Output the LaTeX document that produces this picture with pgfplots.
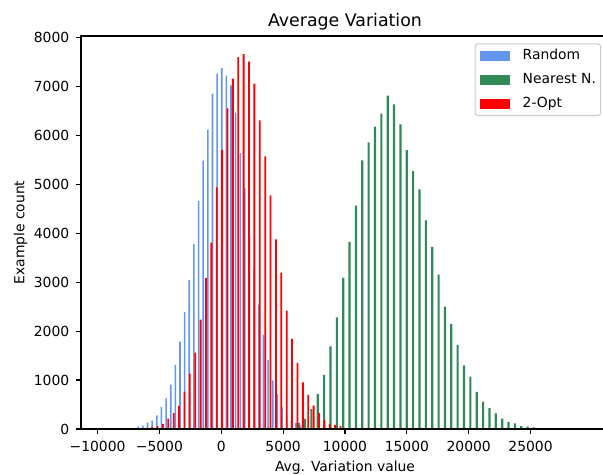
\documentclass[border=0pt]{standalone}
\usepackage{fontspec}
\setmainfont{DejaVu Sans}
\usepackage{pgfplots}
\pgfplotsset{compat=1.18}
\definecolor{cornflower}{HTML}{6495ED}
\definecolor{seagreen}{HTML}{2E8B57}
\definecolor{mplred}{HTML}{FF0000}
\begin{document}
\begin{tikzpicture}
\begin{axis}[
  at={(0,0)}, anchor=south west,
  scale only axis, width=380.16pt, height=282.96pt,
  xmin=-11340, xmax=31340, ymin=0, ymax=8030,
  scaled x ticks=false, scaled y ticks=false,
  axis on top,
  axis line style={line width=0.8pt},
  tick pos=left, tick align=outside,
  major tick length=3.5pt,
  every tick/.style={black, line width=0.8pt},
  xtick={-10000,-5000,0,5000,10000,15000,20000,25000},
  xticklabels={−10000,−5000,0,5000,10000,15000,20000,25000},
  ytick={0,1000,2000,3000,4000,5000,6000,7000,8000},
  yticklabels={0,1000,2000,3000,4000,5000,6000,7000,8000},
  tick label style={font=\fontsize{10}{12}\selectfont},
  xticklabel style={anchor=base, inner sep=0pt, yshift=-12.6pt},
  yticklabel style={anchor=east, inner sep=0pt, xshift=-4.8pt},
  title={Average Variation},
  title style={at={(axis description cs:0.5,1)}, anchor=base, yshift=0.7pt, inner sep=0pt, font=\fontsize{12.5}{15}\selectfont},
  xlabel={Avg. Variation value},
  xlabel style={at={(axis description cs:0.5,-0.1081)}, anchor=base, inner sep=0pt, font=\fontsize{10}{12}\selectfont},
  ylabel={Example count},
  ylabel style={at={(axis description cs:-0.1071,0.5)}, anchor=base, inner sep=0pt, font=\fontsize{10}{12}\selectfont},
  legend cell align=left,
  legend style={at={(0.9852,0.9814)}, anchor=north east, draw=black!20, line width=0.8pt, rounded corners=2pt, fill=white,
    inner xsep=3.3pt, inner ysep=3.5pt, row sep=7.3pt, font=\fontsize{10}{12}\selectfont,
    nodes={inner sep=0pt, text height=7.5pt, text depth=2.5pt},
    /tikz/every odd column/.append style={column sep=9.4pt}},
  legend image code/.code={\fill[#1, sharp corners] (0pt,-3.6pt) rectangle (21.6pt,3.6pt);},
]
\addplot[ybar, bar width=128, bar shift=0pt, fill=cornflower, draw=none] coordinates {
(-7462,20) (-7087,20) (-6712,47) (-6337,67) (-5962,129) (-5587,170) (-5212,279) (-4837,450) (-4462,626) (-4087,906) (-3712,1309) (-3337,1785) (-2962,2393) (-2587,3047) (-2212,3783) (-1837,4660) (-1462,5481) (-1087,6115) (-712,6851) (-337,7260) (38,7375) (413,7219) (788,7020) (1163,6462) (1538,5636) (1913,4914) (2288,3950) (2663,3279) (3038,2542) (3413,1928) (3788,1411) (4163,994) (4538,716) (4913,440) (5288,290) (5663,170) (6038,125) (6413,72)
};
\addlegendentry{Random}
\addplot[ybar, bar width=175, bar shift=0pt, fill=seagreen, draw=none] coordinates {
(6257,122) (6771,208) (7285,409) (7799,716) (8313,1104) (8827,1690) (9341,2283) (9855,3088) (10369,3824) (10883,4566) (11397,5487) (11911,5855) (12425,6176) (12939,6442) (13453,6810) (13967,6632) (14481,6223) (14995,5697) (15509,5268) (16023,4894) (16537,4260) (17051,3722) (17565,3155) (18079,2501) (18593,2147) (19107,1718) (19621,1301) (20135,1070) (20649,757) (21163,558) (21677,425) (22191,319) (22705,211) (23219,143) (23733,115) (24247,61) (24761,53) (25275,33) (25789,20)
};
\addlegendentry{Nearest N.\hspace{2.4pt}}
\addplot[ybar, bar width=148, bar shift=0pt, fill=mplred, draw=none] coordinates {
(-6023,12) (-5588,40) (-5153,61) (-4718,102) (-4283,211) (-3848,323) (-3413,473) (-2978,763) (-2543,1131) (-2108,1560) (-1673,2236) (-1238,3088) (-803,3810) (-368,4935) (67,5700) (502,6550) (937,7157) (1372,7600) (1807,7658) (2242,7508) (2677,7055) (3112,6308) (3547,5569) (3982,4772) (4417,3872) (4852,3193) (5287,2416) (5722,1840) (6157,1350) (6592,953) (7027,698) (7462,476) (7897,323) (8332,184) (8767,102) (9202,82) (9637,64) (10072,20) (10507,14)
};
\addlegendentry{2-Opt}
\end{axis}
\pgfresetboundingbox
\path[use as bounding box] (-58.32pt,-33.12pt) rectangle (375.84pt,308.88pt);
\end{tikzpicture}
\end{document}
